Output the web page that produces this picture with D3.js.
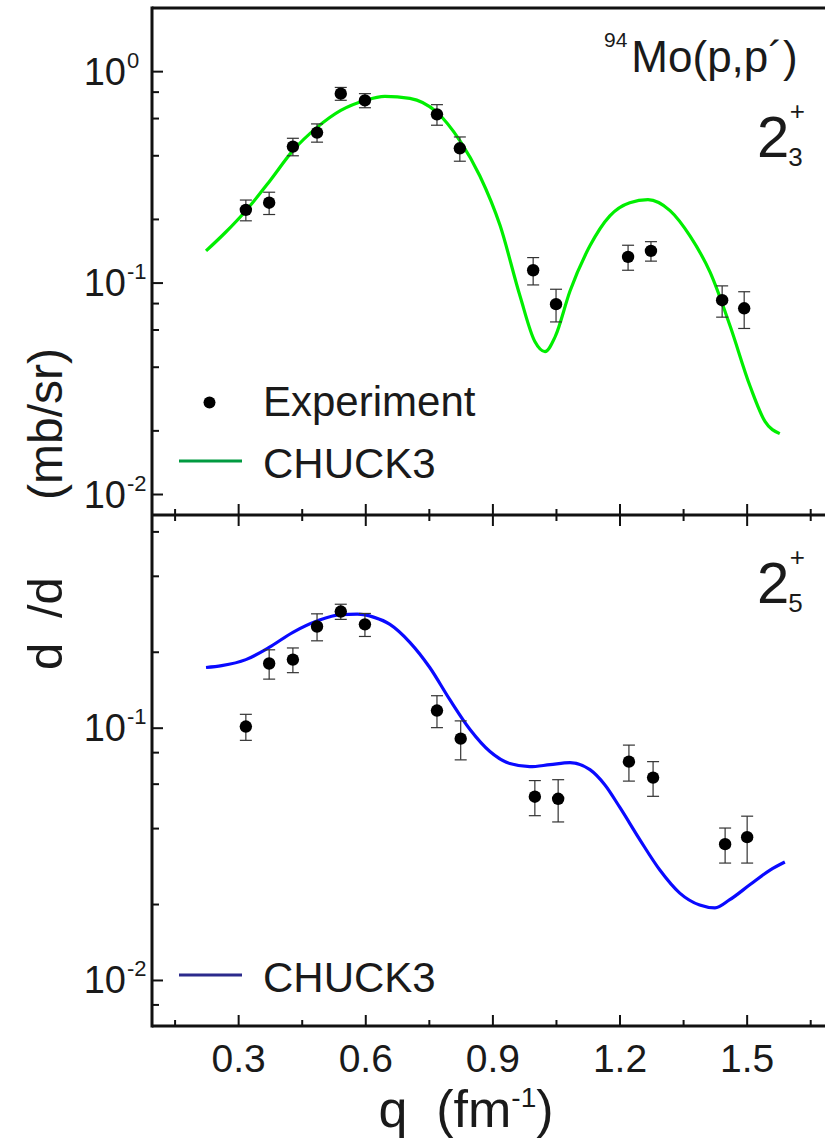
<!DOCTYPE html>
<html>
<head>
<meta charset="utf-8">
<script src="https://cdn.jsdelivr.net/npm/d3@7"></script>
<style>
  html, body { margin: 0; padding: 0; background: #fff; }
  svg { display: block; font-family: "Liberation Sans", Arial, sans-serif; }
  text { fill: #1a1a1a; }
</style>
</head>
<body>
<svg id="chart" width="825" height="1141"></svg>
<script>
// Experimental cross sections, 2+_3 state (q in fm^-1, mb/sr)
const qExpTop = [0.317, 0.372, 0.428, 0.485, 0.541, 0.598, 0.768, 0.822, 0.995, 1.049, 1.219, 1.273, 1.441, 1.493];
const sExpTop = [0.222, 0.240, 0.442, 0.515, 0.787, 0.731, 0.628, 0.434, 0.115, 0.0795, 0.133, 0.142, 0.083, 0.076];
const eExpTop = [0.025, 0.029, 0.042, 0.051, 0.055, 0.056, 0.070, 0.057, 0.017, 0.014, 0.018, 0.015, 0.014, 0.015];

// CHUCK3 calculation, 2+_3
const qCalcTop = [0.223, 0.268, 0.317, 0.374, 0.428, 0.485, 0.541, 0.598, 0.645, 0.704, 0.768, 0.822, 0.869, 0.917, 0.964, 0.999, 1.023, 1.047, 1.082, 1.129, 1.176, 1.223, 1.266, 1.318, 1.365, 1.413, 1.460, 1.507, 1.542, 1.577];
const sCalcTop = [0.142, 0.173, 0.220, 0.305, 0.423, 0.545, 0.656, 0.731, 0.764, 0.748, 0.642, 0.472, 0.322, 0.187, 0.0868, 0.0529, 0.0474, 0.0558, 0.0917, 0.150, 0.208, 0.240, 0.248, 0.220, 0.167, 0.112, 0.0625, 0.0325, 0.0222, 0.0194];

// Experimental cross sections, 2+_5 state
const qExpBot = [0.317, 0.372, 0.428, 0.485, 0.541, 0.598, 0.768, 0.824, 0.999, 1.054, 1.221, 1.278, 1.448, 1.500];
const sExpBot = [0.1015, 0.1805, 0.187, 0.253, 0.290, 0.258, 0.1175, 0.0909, 0.0535, 0.0525, 0.0737, 0.0637, 0.0347, 0.037];
const eExpBot = [0.012, 0.024, 0.021, 0.031, 0.020, 0.027, 0.017, 0.016, 0.0085, 0.010, 0.012, 0.010, 0.0055, 0.0078];

// CHUCK3 calculation, 2+_5
const qCalcBot = [0.223, 0.260, 0.317, 0.372, 0.428, 0.485, 0.541, 0.580, 0.620, 0.657, 0.704, 0.751, 0.798, 0.846, 0.893, 0.940, 0.987, 1.035, 1.082, 1.129, 1.164, 1.200, 1.247, 1.294, 1.341, 1.388, 1.424, 1.459, 1.507, 1.554, 1.589];
const sCalcBot = [0.174, 0.177, 0.187, 0.209, 0.240, 0.266, 0.282, 0.283, 0.275, 0.258, 0.219, 0.174, 0.130, 0.0988, 0.0808, 0.0724, 0.0704, 0.0717, 0.073, 0.0685, 0.0597, 0.0484, 0.0361, 0.0274, 0.0222, 0.0199, 0.0194, 0.0209, 0.0240, 0.0274, 0.0295];

// Axis ticks
const xMajor = [0.3, 0.6, 0.9, 1.2, 1.5];
const xMinor = [0.15, 0.45, 0.75, 1.05, 1.35, 1.65];
const yMajorTop = [1, 0.1, 0.01];
const yMajorBot = [0.1, 0.01];
const yMinorMant = [2, 4, 6, 8];

const svg = d3.select("#chart");
const left = 152, right = 825;

const x = d3.scaleLinear().domain([0.1, 1.7]).range([153.9, 831.9]);
const yTop = d3.scaleLog().domain([0.008, 2]).range([515, 8]);
const yBot = d3.scaleLog().domain([0.0066, 0.7]).range([1026, 515]);

function minorTicks(scale) {
  const [lo, hi] = scale.domain();
  const out = [];
  for (let e = -4; e <= 1; e++) {
    for (const m of yMinorMant) {
      const v = m * Math.pow(10, e);
      if (v > lo * 1.02 && v < hi * 0.98) out.push(v);
    }
  }
  return out;
}

const axisG = svg.append("g");

// frame lines
[8, 515, 1026].forEach(yy => {
  axisG.append("line").attr("x1", left).attr("x2", right).attr("y1", yy).attr("y2", yy)
    .attr("stroke", "#111").attr("stroke-width", 3);
});
axisG.append("line").attr("x1", left).attr("x2", left).attr("y1", 6.5).attr("y2", 1027.5)
  .attr("stroke", "#111").attr("stroke-width", 3);

// x ticks: across the shared border and inward on the bottom axis
xMajor.forEach(v => {
  axisG.append("line").attr("x1", x(v)).attr("x2", x(v)).attr("y1", 504).attr("y2", 526)
    .attr("stroke", "#111").attr("stroke-width", 2);
  axisG.append("line").attr("x1", x(v)).attr("x2", x(v)).attr("y1", 1015).attr("y2", 1026)
    .attr("stroke", "#111").attr("stroke-width", 2);
  axisG.append("text").attr("x", x(v)).attr("y", 1072).attr("text-anchor", "middle")
    .attr("font-size", 39).text(d3.format(".1f")(v));
});
xMinor.forEach(v => {
  axisG.append("line").attr("x1", x(v)).attr("x2", x(v)).attr("y1", 509).attr("y2", 521)
    .attr("stroke", "#111").attr("stroke-width", 2);
  axisG.append("line").attr("x1", x(v)).attr("x2", x(v)).attr("y1", 1020).attr("y2", 1026)
    .attr("stroke", "#111").attr("stroke-width", 2);
});

// y ticks with 10^n labels
function yTicks(scale, majors) {
  majors.forEach(v => {
    const yy = scale(v);
    axisG.append("line").attr("x1", left).attr("x2", left + 11).attr("y1", yy).attr("y2", yy)
      .attr("stroke", "#111").attr("stroke-width", 2);
    axisG.append("text").attr("x", 126).attr("y", yy + 13).attr("text-anchor", "end")
      .attr("font-size", 38).text("10");
    axisG.append("text").attr("x", 127).attr("y", yy - 4).attr("text-anchor", "start")
      .attr("font-size", 22).text(String(Math.round(Math.log10(v))));
  });
  minorTicks(scale).forEach(v => {
    const yy = scale(v);
    axisG.append("line").attr("x1", left).attr("x2", left + 7).attr("y1", yy).attr("y2", yy)
      .attr("stroke", "#111").attr("stroke-width", 2);
  });
}
yTicks(yTop, yMajorTop);
yTicks(yBot, yMajorBot);

// axis titles
axisG.append("text").attr("x", 466).attr("y", 1127).attr("text-anchor", "middle")
  .attr("font-size", 52)
  .html('q&#160;&#160;(fm<tspan dy="-20" font-size="28">-1</tspan><tspan dy="20">)</tspan>');

const yTitle = axisG.append("g").attr("transform", "translate(62,0)");
yTitle.append("text").attr("transform", "translate(0,670) rotate(-90)").attr("font-size", 49).text("d");
yTitle.append("text").attr("transform", "translate(0,618) rotate(-90)").attr("font-size", 49).text("/d");
yTitle.append("text").attr("transform", "translate(0,500) rotate(-90)").attr("font-size", 48).text("(mb/sr)");

// panel drawing
function panel(y, qExp, sExp, eExp, qCalc, sCalc, color) {
  const g = svg.append("g");
  const line = d3.line().x(d => x(d[0])).y(d => y(d[1])).curve(d3.curveMonotoneX);
  g.append("path").datum(d3.zip(qCalc, sCalc)).attr("d", line)
    .attr("fill", "none").attr("stroke", color).attr("stroke-width", 3.2);

  const pts = d3.zip(qExp, sExp, eExp);
  const eb = g.selectAll("g.eb").data(pts).join("g");
  eb.append("line").attr("x1", d => x(d[0])).attr("x2", d => x(d[0]))
    .attr("y1", d => y(d[1] + d[2])).attr("y2", d => y(d[1] - d[2]))
    .attr("stroke", "#333").attr("stroke-width", 1.2);
  [1, -1].forEach(s => {
    eb.append("line").attr("x1", d => x(d[0]) - 6).attr("x2", d => x(d[0]) + 6)
      .attr("y1", d => y(d[1] + s * d[2])).attr("y2", d => y(d[1] + s * d[2]))
      .attr("stroke", "#333").attr("stroke-width", 1.2);
  });
  g.selectAll("circle").data(pts).join("circle")
    .attr("cx", d => x(d[0])).attr("cy", d => y(d[1])).attr("r", 6.2).attr("fill", "#000");
}
panel(yTop, qExpTop, sExpTop, eExpTop, qCalcTop, sCalcTop, "#00ee00");
panel(yBot, qExpBot, sExpBot, eExpBot, qCalcBot, sCalcBot, "#0a0aff");

// legends
const lg = svg.append("g");
lg.append("circle").attr("cx", 209.5).attr("cy", 402.5).attr("r", 6).attr("fill", "#000");
lg.append("text").attr("x", 263).attr("y", 416).attr("font-size", 42).text("Experiment");
lg.append("line").attr("x1", 179).attr("x2", 242).attr("y1", 461).attr("y2", 461)
  .attr("stroke", "#009a40").attr("stroke-width", 3);
lg.append("text").attr("x", 263).attr("y", 478).attr("font-size", 42).text("CHUCK3");
lg.append("line").attr("x1", 179).attr("x2", 242).attr("y1", 975).attr("y2", 975)
  .attr("stroke", "#2b2a8c").attr("stroke-width", 3);
lg.append("text").attr("x", 263).attr("y", 992).attr("font-size", 42).text("CHUCK3");

// reaction and state labels
const lb = svg.append("g");
lb.append("text").attr("x", 604).attr("y", 47).attr("font-size", 21)
  .html('94<tspan dy="25" dx="4" font-size="44">Mo(p,p\u00B4)</tspan>');

function stateLabel(yBase, sub) {
  lb.append("text").attr("x", 757).attr("y", yBase).attr("font-size", 58)
    .html(`2<tspan dy="9" dx="-1" font-size="26">${sub}</tspan><tspan dy="-46" dx="-13" font-size="26">+</tspan>`);
}
stateLabel(157, "3");
stateLabel(603, "5");
</script>
</body>
</html>
